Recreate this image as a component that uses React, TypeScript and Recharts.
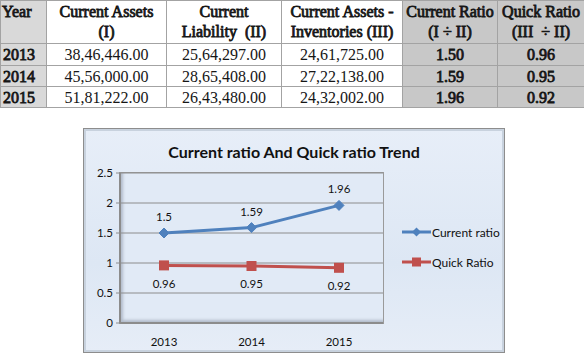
import React from 'react';
import { LineChart, Line, XAxis, YAxis, CartesianGrid, Legend, LabelList } from 'recharts';

const years = ['2013', '2014', '2015'];
const currentAssets = ['38,46,446.00', '45,56,000.00', '51,81,222.00'];
const currentLiability = ['25,64,297.00', '28,65,408.00', '26,43,480.00'];
const quickAssets = ['24,61,725.00', '27,22,138.00', '24,32,002.00'];
const currentRatio = [1.5, 1.59, 1.96];
const quickRatio = [0.96, 0.95, 0.92];
const yTicks = [0, 0.5, 1, 1.5, 2, 2.5];

const chartData = years.map((year, i) => ({ year, current: currentRatio[i], quick: quickRatio[i] }));

const BLUE = '#4f81bd';
const RED = '#c0504d';
const GRID = '#8c8c8c';
const chartFont = 'Lato, "Open Sans", sans-serif';
const serif = '"Liberation Serif", "Times New Roman", Times, serif';

const Diamond = (props: any) => {
  const { cx, cy } = props;
  if (cx == null || cy == null) return null;
  const r = 5;
  return <polygon points={`${cx},${cy - r} ${cx + r},${cy} ${cx},${cy + r} ${cx - r},${cy}`} fill={BLUE} stroke={BLUE} />;
};

const Square = (props: any) => {
  const { cx, cy } = props;
  if (cx == null || cy == null) return null;
  return <rect x={cx - 5} y={cy - 5} width={10} height={10} fill={RED} />;
};

const legendItems = [
  { name: 'Current ratio', color: BLUE, shape: 'diamond' },
  { name: 'Quick Ratio', color: RED, shape: 'square' },
];

const LegendContent = () => (
  <div style={{ display: 'flex', flexDirection: 'column', gap: 16, fontFamily: chartFont, fontSize: 12, color: '#111' }}>
    {legendItems.map(it => (
      <div key={it.name} style={{ display: 'flex', alignItems: 'center', height: 14 }}>
        <svg width={29} height={14} style={{ marginRight: 1 }}>
          <line x1={0} y1={7} x2={29} y2={7} stroke={it.color} strokeWidth={3} />
          {it.shape === 'diamond'
            ? <polygon points="14.5,2.5 19,7 14.5,11.5 10,7" fill={it.color} />
            : <rect x={10} y={2.5} width={9} height={9} fill={it.color} />}
        </svg>
        <span>{it.name}</span>
      </div>
    ))}
  </div>
);

// serif bold faces fall back to a sans font here, so thicken the regular face instead
const boldish: React.CSSProperties = {
  fontWeight: 'normal',
  WebkitTextStroke: '0.8px #161616',
};

const th: React.CSSProperties = {
  border: '1px solid #a3a3a3',
  fontFamily: serif,
  fontSize: 16,
  ...boldish,
  textAlign: 'center',
  verticalAlign: 'top',
  padding: '1px 1px',
  lineHeight: '20px',
  whiteSpace: 'nowrap',
};
const td: React.CSSProperties = {
  border: '1px solid #a3a3a3',
  fontFamily: serif,
  fontSize: 16,
  fontWeight: 'normal',
  textAlign: 'center',
  padding: '0 2px',
  lineHeight: '19px',
  whiteSpace: 'nowrap',
};
const yearBg = '#d9d9d9';
const ratioBg = '#c8c8c8';

export default function App() {
  return (
    <div style={{ position: 'absolute', left: 0, top: 0, width: 584, height: 357, background: '#fff', overflow: 'hidden' }}>
      <table style={{ position: 'absolute', left: 0, top: 0, width: 584, borderCollapse: 'collapse', tableLayout: 'fixed', fontFamily: serif, color: '#161616' }}>
        <colgroup>
          <col style={{ width: 46 }} />
          <col style={{ width: 120 }} />
          <col style={{ width: 115 }} />
          <col style={{ width: 121 }} />
          <col style={{ width: 95 }} />
          <col style={{ width: 87 }} />
        </colgroup>
        <thead>
          <tr style={{ height: 43 }}>
            <th style={{ ...th, background: yearBg, textAlign: 'left' }}>Year</th>
            <th style={th}>Current Assets<br />(I)</th>
            <th style={th}>Current<br />Liability&nbsp; (II)</th>
            <th style={th}>Current Assets -<br />Inventories (III)</th>
            <th style={{ ...th, background: ratioBg }}>Current Ratio<br />(I ÷ II)</th>
            <th style={{ ...th, background: ratioBg }}>Quick Ratio<br />(III&nbsp; ÷ II)</th>
          </tr>
        </thead>
        <tbody>
          {years.map((y, i) => (
            <tr key={y} style={{ height: i === 0 ? 22 : 21 }}>
              <td style={{ ...td, background: yearBg, ...boldish, textAlign: 'left' }}>{y}</td>
              <td style={td}>{currentAssets[i]}</td>
              <td style={td}>{currentLiability[i]}</td>
              <td style={td}>{quickAssets[i]}</td>
              <td style={{ ...td, background: ratioBg, ...boldish }}>{currentRatio[i].toFixed(2)}</td>
              <td style={{ ...td, background: ratioBg, ...boldish }}>{quickRatio[i].toFixed(2)}</td>
            </tr>
          ))}
        </tbody>
      </table>

      {/* chart box */}
      <div style={{
        position: 'absolute', left: 84, top: 129, width: 420, height: 223,
        background: 'linear-gradient(to bottom, #e7eef8 0%, #dde7f4 60%, #e6edf7 100%)',
        boxShadow: '0 0 0 1px #8d8d8d, inset 0 0 0 2px #c8d2de',
      }}>
        <div style={{ position: 'absolute', left: 0, top: 13, width: 420, textAlign: 'center', fontFamily: chartFont, fontWeight: 'bold', fontSize: 16, color: '#111' }}>
          Current ratio And Quick ratio Trend
        </div>
        {/* plot frame */}
        <div style={{
          position: 'absolute', left: 36, top: 44, width: 263, height: 150,
          background: '#e1eaf6',
          boxShadow: '0 0 0 1px #9a9a9a, inset 3px -3px 3px rgba(90,100,120,0.35)',
        }} />
        <LineChart
          width={420}
          height={223}
          data={chartData}
          margin={{ top: 44, right: 121, bottom: 0, left: 0 }}
          style={{ position: 'absolute', left: 0, top: 0 }}
        >
          <CartesianGrid vertical={false} stroke={GRID} strokeWidth={1} />
          <XAxis
            dataKey="year"
            height={29}
            padding={{ left: 44, right: 44 }}
            axisLine={{ stroke: GRID, strokeWidth: 2 }}
            tickLine={false}
            tickMargin={9}
            tick={{ fontFamily: chartFont, fontSize: 11.5, fill: '#111' }}
          />
          <YAxis
            width={36}
            domain={[0, 2.5]}
            ticks={yTicks}
            interval={0}
            axisLine={{ stroke: GRID, strokeWidth: 2 }}
            tickLine={{ stroke: GRID }}
            tickSize={4}
            tickMargin={3}
            tick={{ fontFamily: chartFont, fontSize: 11.5, fill: '#111' }}
          />
          <Legend
            layout="horizontal"
            verticalAlign="middle"
            align="center"
            content={<LegendContent />}
            wrapperStyle={{ left: 318, top: 96, width: 100 }}
          />
          <Line
            type="linear"
            dataKey="current"
            name="Current ratio"
            stroke={BLUE}
            strokeWidth={3}
            dot={<Diamond />}
            activeDot={false}
            isAnimationActive={false}
          >
            <LabelList dataKey="current" position="top" offset={12} style={{ fontFamily: chartFont, fontSize: 11.5, fill: '#111' }} />
          </Line>
          <Line
            type="linear"
            dataKey="quick"
            name="Quick Ratio"
            stroke={RED}
            strokeWidth={3}
            dot={<Square />}
            activeDot={false}
            isAnimationActive={false}
          >
            <LabelList dataKey="quick" position="bottom" offset={14} style={{ fontFamily: chartFont, fontSize: 11.5, fill: '#111' }} />
          </Line>
        </LineChart>
      </div>
    </div>
  );
}
